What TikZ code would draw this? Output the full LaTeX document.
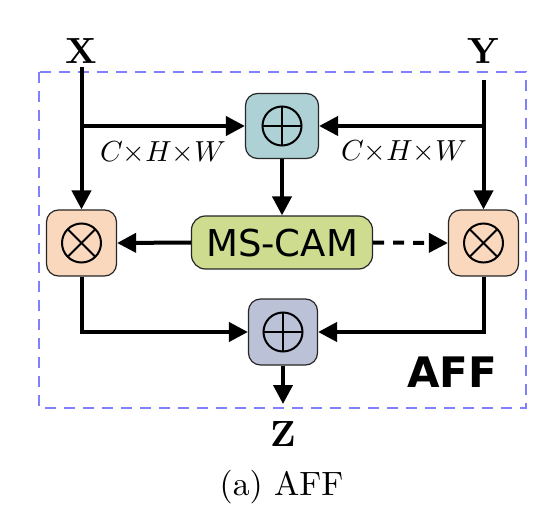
\documentclass[tikz,border=0pt]{standalone}
\usepackage{fontspec}
\usepackage{graphicx}
\newfontfamily\dejavu{DejaVu Sans}
\usetikzlibrary{arrows.meta,calc}
\definecolor{boxline}{HTML}{8080FF}
\definecolor{addtop}{HTML}{AED1D6}
\definecolor{multc}{HTML}{FAD8BE}
\definecolor{camc}{HTML}{CDDC8F}
\definecolor{addbot}{HTML}{BBC2D8}
\tikzset{
  opbox/.style={draw=black!85, line width=1.2pt, rounded corners=12pt, minimum width=70pt, minimum height=66pt, inner sep=0pt},
  arr/.style={line width=4pt, -{Triangle[length=19pt,width=19pt]}},
  sym/.style={line width=2pt},
  bigser/.style={inner sep=0pt, anchor=base},
  dimlab/.style={inner sep=0pt, anchor=base},
}
\begin{document}
\begin{tikzpicture}[x=1pt,y=-1pt]
\useasboundingbox (0,0) rectangle (549,505);
% dashed frame
\draw[boxline, line width=2pt, dash pattern=on 11pt off 8pt] (39,72) rectangle (526,408);
% nodes
\node[opbox, fill=addtop, minimum width=73pt, minimum height=65pt] (add1) at (282,126) {};
\node[opbox, fill=multc] (m1) at (81.5,243) {};
\node[opbox, fill=multc] (m2) at (483.5,243) {};
\node[opbox, fill=camc, minimum width=181pt, minimum height=53pt, rounded corners=14pt] (cam) at (282,242.5) {};
\node[inner sep=0pt, anchor=base, font=\dejavu\fontsize{37}{40}\selectfont] (camtxt) at (282,257) {MS-CAM};
\node[opbox, fill=addbot, minimum width=69pt] (add2) at (283,332) {};
% symbols
\foreach \n in {add1,add2}{
  \draw[sym] (\n.center) circle (19.5pt);
  \draw[sym] ($(\n.center)+(-19.5,0)$) -- ($(\n.center)+(19.5,0)$);
  \draw[sym] ($(\n.center)+(0,-19.5)$) -- ($(\n.center)+(0,19.5)$);
}
\foreach \n in {m1,m2}{
  \draw[sym] (\n.center) circle (19.5pt);
  \draw[sym] ($(\n.center)+(-13.8,-13.8)$) -- ($(\n.center)+(13.8,13.8)$);
  \draw[sym] ($(\n.center)+(-13.8,13.8)$) -- ($(\n.center)+(13.8,-13.8)$);
}
% labels
\node[bigser] (X) at (81.5,63.5) {\scalebox{3.64}{\bfseries X}};
\node[bigser] (Y) at (483.5,64) {\scalebox{3.64}{\bfseries Y}};
\node[bigser] (Z) at (283,446.5) {\scalebox{3.64}{\bfseries Z}};
\node[inner sep=0pt, anchor=base] (cap) at (281.5,495.5) {\scalebox{3.37}{(a) AFF}};
\node[inner sep=0pt, anchor=base, font=\dejavu\fontsize{42}{44}\selectfont\bfseries] (aff) at (452,387) {AFF};
\node[dimlab] (d1) at (163,162) {\scalebox{2.9}{$C{\times}H{\times}W$}};
\node[dimlab] (d2) at (404,161) {\scalebox{2.9}{$C{\times}H{\times}W$}};
% coordinates
\coordinate (xs) at (81.5,67);
\coordinate (ys) at (483.5,80);
\coordinate (zend) at (283,404);
% connectors
\draw[arr] (xs) -- (m1.north);
\draw[arr] (xs |- add1.west) -- (add1.west);
\draw[arr] (ys) -- (m2.north);
\draw[arr] (ys |- add1.east) -- (add1.east);
\draw[arr] (add1.south) -- (cam.north);
\draw[arr] (cam.west) -- (m1.east);
\draw[arr, dash pattern=on 11pt off 9pt] (cam.east) -- (m2.west);
\draw[arr] (m1.south) |- (add2.west);
\draw[arr] (m2.south) |- (add2.east);
\draw[arr] (add2.south) -- (zend);
\end{tikzpicture}
\end{document}
